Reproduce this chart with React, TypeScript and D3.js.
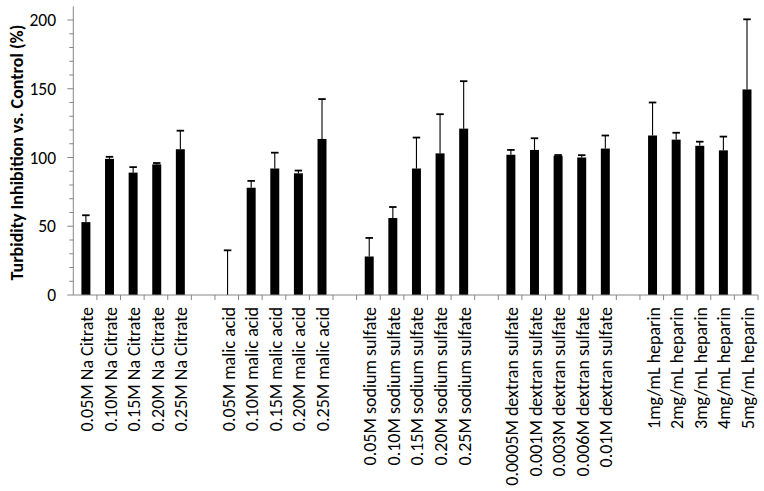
import React from "react";
import * as d3 from "d3";

// categories in plotting order, "" = empty spacer slot between groups
const categories = [
  "0.05M Na Citrate", "0.10M Na Citrate", "0.15M Na Citrate", "0.20M Na Citrate", "0.25M Na Citrate",
  "",
  "0.05M malic acid", "0.10M malic acid", "0.15M malic acid", "0.20M malic acid", "0.25M malic acid",
  "",
  "0.05M sodium sulfate", "0.10M sodium sulfate", "0.15M sodium sulfate", "0.20M sodium sulfate", "0.25M sodium sulfate",
  "",
  "0.0005M dextran sulfate", "0.001M dextran sulfate", "0.003M dextran sulfate", "0.006M dextran sulfate", "0.01M dextran sulfate",
  "",
  "1mg/mL heparin", "2mg/mL heparin", "3mg/mL heparin", "4mg/mL heparin", "5mg/mL heparin",
];

// mean turbidity inhibition (%), null for spacer slots
const values = [
  53, 99, 89, 95, 106,
  null,
  0, 78, 92, 88.5, 113.5,
  null,
  28, 56, 92, 103, 121,
  null,
  102, 105.5, 101.3, 100, 106.5,
  null,
  116, 113, 108.5, 105.2, 149.5,
];

// upper error (%)
const errors = [
  5, 1.5, 4, 1, 13.5,
  null,
  32.5, 5, 11.5, 2, 29,
  null,
  13.5, 8, 22.5, 28.5, 34.5,
  null,
  3.5, 8.5, 0.5, 1.7, 9.5,
  null,
  24, 5, 3, 10, 51,
];

const yTicks = [0, 50, 100, 150, 200];
const yMinorTicks = d3.range(0, 201, 10);

const width = 764;
const height = 491;
const left = 73.3;
const right = 758;
const top = 6.25;
const bottom = 295;

const font = "Carlito, Calibri, Lato, sans-serif";

const App = () => {
  const x = d3
    .scaleBand<number>()
    .domain(categories.map((_, i) => i))
    .range([left, right])
    .paddingInner(0)
    .paddingOuter(0);

  const y = d3.scaleLinear().domain([0, 210]).range([bottom, top]);

  const barW = x.bandwidth() * 0.38;
  const capW = 7.5;
  const axisColor = "#868686";

  return (
    <svg
      width={width}
      height={height}
      style={{ position: "absolute", left: 0, top: 0, background: "#fff" }}
    >
      {/* bars */}
      {values.map((v, i) =>
        v === null ? null : (
          <rect
            key={"b" + i}
            x={x(i)! + x.bandwidth() / 2 - barW / 2 + 0.8}
            y={y(v)}
            width={barW}
            height={y(0) - y(v)}
            fill="#000"
          />
        )
      )}

      {/* error bars, plus direction only */}
      {values.map((v, i) => {
        if (v === null || errors[i] === null) return null;
        const cx = x(i)! + x.bandwidth() / 2 + 0.8;
        const yTop = y(v + (errors[i] as number));
        return (
          <g key={"e" + i} stroke="#000" strokeWidth={1.1}>
            <line x1={cx} x2={cx} y1={y(v)} y2={yTop} />
            <line x1={cx - capW / 2} x2={cx + capW / 2} y1={yTop} y2={yTop} strokeWidth={1.8} />
          </g>
        );
      })}

      {/* y axis */}
      <line x1={left} x2={left} y1={top} y2={bottom} stroke={axisColor} strokeWidth={1} />
      {yMinorTicks.map((t) => (
        <line
          key={"m" + t}
          x1={left - (t % 50 === 0 ? 6 : 4)}
          x2={left}
          y1={y(t)}
          y2={y(t)}
          stroke={axisColor}
          strokeWidth={1}
        />
      ))}
      {yTicks.map((t) => (
        <text
          key={"t" + t}
          x={56}
          y={y(t)}
          dy="0.35em"
          textAnchor="end"
          fontFamily={font}
          fontSize={17.5}
          fill="#000"
        >
          {t}
        </text>
      ))}

      {/* x axis */}
      <line x1={left} x2={right} y1={bottom} y2={bottom} stroke={axisColor} strokeWidth={1} />
      {categories.map((_, i) => (
        <line
          key={"xt" + i}
          x1={x(i)! + x.bandwidth()}
          x2={x(i)! + x.bandwidth()}
          y1={bottom}
          y2={bottom + 5}
          stroke={axisColor}
          strokeWidth={1}
        />
      ))}
      {categories.map((c, i) =>
        c === "" ? null : (
          <text
            key={"xl" + i}
            transform={`translate(${x(i)! + x.bandwidth() / 2 + 1.5},307) rotate(-90)`}
            dy="0.35em"
            textAnchor="end"
            fontFamily={font}
            fontSize={18}
            fill="#000"
          >
            {c}
          </text>
        )
      )}

      {/* y axis title */}
      <text
        transform={`translate(17,${(top + bottom) / 2 + 2}) rotate(-90)`}
        dy="0.35em"
        textAnchor="middle"
        fontFamily={font}
        fontWeight="bold"
        fontSize={18}
        fill="#000"
      >
        Turbidity Inhibition vs. Control (%)
      </text>
    </svg>
  );
};

export default App;
